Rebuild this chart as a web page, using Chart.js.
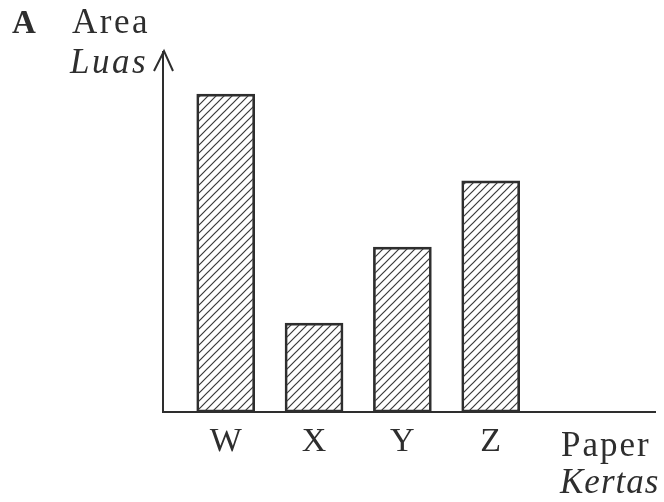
<!DOCTYPE html>
<html>
<head>
<meta charset="utf-8">
<script src="https://cdn.jsdelivr.net/npm/chart.js@4.4.0/dist/chart.umd.min.js"></script>
<style>
  html, body { margin: 0; padding: 0; background: #fff; }
  #wrap { width: 664px; height: 502px; position: relative; }
</style>
</head>
<body>
<div id="wrap"><canvas id="chart"></canvas></div>
<script>
const papers = ['W', 'X', 'Y', 'Z'];
const paperPos = [1, 2, 3, 4];
const areas = [88.3, 24.7, 45.8, 64.2];

const ink = '#2e2e2e';
const serif = "'Liberation Serif', 'DejaVu Serif', serif";

function makeHatch() {
    const c = document.createElement('canvas');
    c.width = 8; c.height = 8;
    const g = c.getContext('2d');
    g.strokeStyle = '#3a3a3a';
    g.lineWidth = 1.2;
    g.beginPath();
    g.moveTo(0, 8); g.lineTo(8, 0);
    g.moveTo(-2, 2); g.lineTo(2, -2);
    g.moveTo(6, 10); g.lineTo(10, 6);
    g.stroke();
    return document.getElementById('chart').getContext('2d').createPattern(c, 'repeat');
}

const annotations = {
    id: 'annotations',
    afterDraw(chart) {
        const ctx = chart.ctx;
        const area = chart.chartArea;
        ctx.save();
        ctx.fillStyle = ink;
        ctx.textBaseline = 'alphabetic';
        ctx.letterSpacing = '0px';
        ctx.font = 'bold 33px ' + serif;
        ctx.fillText('A', 12, 33);
        ctx.letterSpacing = '2.5px';
        ctx.font = '35px ' + serif;
        ctx.fillText('Area', 72, 33);
        ctx.font = 'italic 35px ' + serif;
        ctx.fillText('Luas', 70, 73);
        ctx.letterSpacing = '2px';
        ctx.font = '35px ' + serif;
        ctx.fillText('Paper', 561, 456);
        ctx.letterSpacing = '1px';
        ctx.font = 'italic 35px ' + serif;
        ctx.fillText('Kertas', 560, 493);

        // arrow head on the y axis
        ctx.strokeStyle = ink;
        ctx.lineWidth = 2;
        ctx.beginPath();
        ctx.moveTo(area.left - 9, area.top + 19);
        ctx.lineTo(area.left + 1, area.top - 1);
        ctx.lineTo(area.left + 10, area.top + 19);
        ctx.stroke();
        ctx.restore();
    }
};

new Chart(document.getElementById('chart'), {
    type: 'bar',
    data: {
        datasets: [{
            data: paperPos.map((p, i) => ({ x: p, y: areas[i] })),
            backgroundColor: makeHatch(),
            borderColor: ink,
            borderWidth: 2,
            borderSkipped: false,
            barThickness: 58
        }]
    },
    options: {
        responsive: true,
        maintainAspectRatio: false,
        animation: false,
        layout: { padding: { left: 163, right: 9, top: 52, bottom: 0 } },
        plugins: { legend: { display: false }, tooltip: { enabled: false } },
        scales: {
            x: {
                type: 'linear',
                offset: false,
                min: 0.29,
                max: 5.86,
                grid: { display: false },
                border: { display: true, color: ink, width: 2 },
                afterBuildTicks: s => { s.ticks = paperPos.map(v => ({ value: v })); },
                afterFit: s => { s.height = 90; },
                ticks: {
                    color: ink,
                    padding: 2,
                    font: { family: serif, size: 34 },
                    callback: v => papers[v - 1] ?? ''
                }
            },
            y: {
                min: 0,
                max: 100,
                grid: { display: false },
                border: { display: true, color: ink, width: 2 },
                ticks: { display: false },
                afterFit: s => { s.width = 0; }
            }
        }
    },
    plugins: [annotations]
});
</script>
</body>
</html>
